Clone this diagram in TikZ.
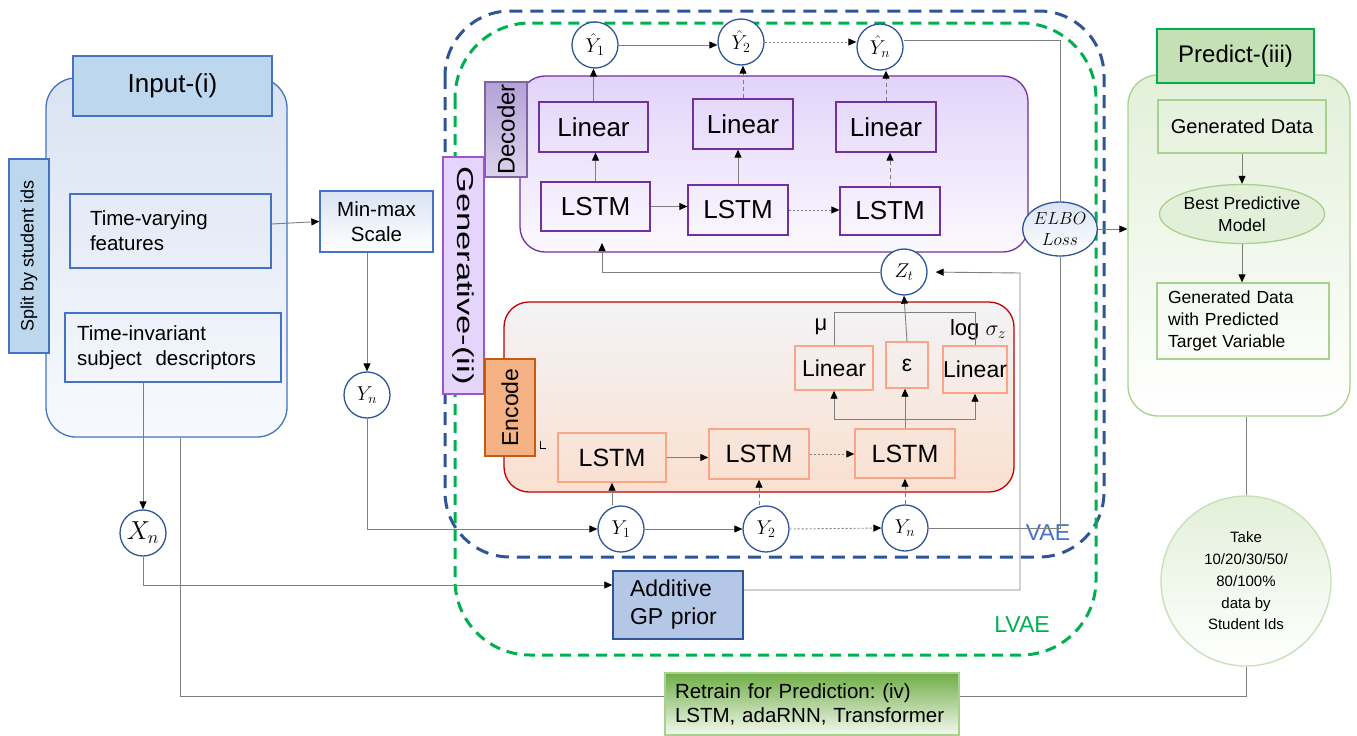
\RequirePackage{fix-cm}
\documentclass[tikz,border=0pt]{standalone}
\usepackage{fontspec}
\setmainfont{Liberation Sans}
\usepackage{graphicx}
\usetikzlibrary{arrows.meta,shapes.geometric}
\newcommand\fsz[2]{\fontsize{#1}{#2}\selectfont}
\definecolor{inborder}{HTML}{4472C4}
\definecolor{intitle}{HTML}{BDD7EE}
\definecolor{intop}{HTML}{DAE3F3}
\definecolor{inbot}{HTML}{F7F9FD}
\definecolor{circblue}{HTML}{2F5597}
\definecolor{linegray}{HTML}{7F7F7F}
\definecolor{decline}{HTML}{7030A0}
\definecolor{dectop}{HTML}{E2D4FA}
\definecolor{decbot}{HTML}{FBF9FE}
\definecolor{dectagtop}{HTML}{B3A2D7}
\definecolor{dectagbot}{HTML}{DCD3EC}
\definecolor{dectagline}{HTML}{8064A2}
\definecolor{gentag}{HTML}{E5D5FC}
\definecolor{genline}{HTML}{9A57CD}
\definecolor{encline}{HTML}{C00000}
\definecolor{enctop}{HTML}{F3F3F6}
\definecolor{encbot}{HTML}{FAE0CF}
\definecolor{enctag}{HTML}{F4B183}
\definecolor{enctagline}{HTML}{C55A11}
\definecolor{encpink}{HTML}{F8A58A}
\definecolor{vaeblue}{HTML}{2F5597}
\definecolor{vaetext}{HTML}{4472C4}
\definecolor{lvaegreen}{HTML}{00B050}
\definecolor{gpfill}{HTML}{B4C7E7}
\definecolor{grnline}{HTML}{A9D18E}
\definecolor{grntop}{HTML}{E2F0D9}
\definecolor{grntitle}{HTML}{C5E0B4}
\definecolor{rttop}{HTML}{70AD47}
\definecolor{rtbot}{HTML}{F3F9EF}
\begin{document}
\frenchspacing
\begin{tikzpicture}[x=1pt,y=-1pt,
  conn/.style={draw=linegray,line width=0.9pt},
  arr/.style={conn,-{Triangle[length=8pt,width=7pt,black]}},
  dotln/.style={dash pattern=on 2pt off 2pt},
  dashln/.style={dash pattern=on 4pt off 3pt},
  var/.style={circle,draw=circblue,line width=1.3pt,fill=white,minimum size=46pt,inner sep=0pt,font=\fsz{20}{23}},
  decbox/.style={draw=decline,line width=1.3pt,inner sep=0pt,font=\fsz{26}{30}},
  encbox/.style={draw=encpink,line width=1.4pt,inner sep=0pt,font=\fsz{25}{29}},
  txtbox/.style={draw=inborder,line width=1.3pt,inner sep=0pt,font=\fsz{20.5}{25}},
  grnbox/.style={draw=grnline,line width=1.3pt,inner sep=0pt},
  tag/.style={line width=1.3pt,inner sep=0pt}]
\fill[white] (0,0) rectangle (1357,736);
\useasboundingbox (0,0) rectangle (1357,736);
\draw[vaeblue,line width=3pt,dash pattern=on 13pt off 8pt,rounded corners=65pt] (445,11) rectangle (1104,557);
\draw[lvaegreen,line width=3pt,dash pattern=on 11pt off 7pt,rounded corners=75pt] (455,23) rectangle (1096,655);
\node[text=vaetext,font=\fsz{23}{26}] (vaelab) at (1048,533) {VAE};
\node[text=lvaegreen,font=\fsz{23}{26}] (lvaelab) at (1022,625) {LVAE};

\node[draw=inborder,line width=1.3pt,rounded corners=30pt,top color=intop,bottom color=inbot,minimum width=241pt,minimum height=359pt] (input) at (166.5,257.5) {};
\node[tag,draw=inborder,fill=intitle,minimum width=199pt,minimum height=60pt,font=\fsz{26}{30}] (intitle) at (172.5,86) {Input-(i)};
\node[tag,draw=inborder,fill=intitle,minimum width=40pt,minimum height=194pt,font=\fsz{18}{21}] (split) at (29,256) {\rotatebox{90}{Split by student ids}};
\node[txtbox,minimum width=201pt,minimum height=74pt,text width=161pt,inner xsep=20pt,align=left] (tv) at (170.5,231) {Time-varying\\features};
\node[txtbox,minimum width=216pt,minimum height=69pt,text width=192pt,inner xsep=12pt,align=left] (ti) at (173,347.5) {Time-invariant\\subject\ \ descriptors};
\node[txtbox,top color=intop,bottom color=white,minimum width=113pt,minimum height=61pt,align=center] (mm) at (376.5,221.5) {Min-max\\Scale};
\node[var] (Yl) at (367,395) {$Y_n$};
\node[var,font=\fsz{26}{28}] (Xn) at (143,533) {$X_n$};

\node[draw=decline,line width=1.3pt,rounded corners=25pt,top color=dectop,bottom color=decbot,minimum width=508pt,minimum height=176pt] (dec) at (774,164) {};
\node[tag,draw=dectagline,top color=dectagtop,bottom color=dectagbot,minimum width=42pt,minimum height=95pt,font=\fsz{24}{28}] (dectag) at (506,129.5) {\rotatebox{90}{Decoder}};
\node[tag,draw=genline,fill=gentag,minimum width=41pt,minimum height=237pt,font=\fsz{23}{26}] (gentag) at (463.5,275.5) {\rotatebox{-90}{\scalebox{1.5}[1]{Generative-(ii)}}};
\node[decbox,minimum width=109pt,minimum height=50pt] (L1) at (593.5,127) {Linear};
\node[decbox,minimum width=100pt,minimum height=50pt] (L2) at (743,124) {Linear};
\node[decbox,minimum width=100pt,minimum height=50pt] (L3) at (886,127) {Linear};
\node[decbox,minimum width=109pt,minimum height=49pt] (S1) at (595.5,206.5) {LSTM};
\node[decbox,minimum width=100pt,minimum height=50pt] (S2) at (738,210) {LSTM};
\node[decbox,minimum width=100pt,minimum height=48pt] (S3) at (890,211) {LSTM};
\node[var] (Yh1) at (595,45) {$\hat{Y}_1$};
\node[var] (Yh2) at (741,42) {$\hat{Y}_2$};
\node[var] (Yhn) at (880,47) {$\hat{Y}_n$};

\node[draw=encline,line width=1.3pt,rounded corners=25pt,top color=enctop,bottom color=encbot,minimum width=510pt,minimum height=190pt] (enc) at (759,397) {};
\node[tag,draw=enctagline,fill=enctag,minimum width=50pt,minimum height=97pt,font=\fsz{23}{26}] (enctag) at (510,407.5) {\rotatebox{90}{Encode}};
\draw[black,line width=1pt] (540.5,441) -- (540.5,448) -- (546,448);
\node[encbox,minimum width=78pt,minimum height=44pt,font=\fsz{23}{26}] (EL1) at (834,368) {Linear};
\node[encbox,minimum width=42pt,minimum height=46pt,font=\fsz{23}{26}] (eps) at (907,365) {ε};
\node[encbox,minimum width=64pt,minimum height=47pt,font=\fsz{23}{26}] (EL2) at (975,369.5) {Linear};
\node[encbox,minimum width=108pt,minimum height=49pt] (E1) at (612,457.5) {LSTM};
\node[encbox,minimum width=100pt,minimum height=50pt] (E2) at (759,454) {LSTM};
\node[encbox,minimum width=100pt,minimum height=49pt] (E3) at (905,453.5) {LSTM};
\node[font=\fsz{22}{26}] (mu) at (821,327) {μ};
\node[font=\fsz{22}{26}] (logs) at (978,330) {log $\sigma_z$};
\node[var] (Zt) at (904,272) {$Z_t$};
\node[var] (Y1) at (621,529) {$Y_1$};
\node[var] (Y2) at (766,529) {$Y_2$};
\node[var] (Yn) at (905,528) {$Y_n$};
\node[ellipse,draw=circblue,line width=1.3pt,top color=intop,bottom color=white,minimum width=67pt,minimum height=54pt,inner sep=0pt,align=center,font=\fsz{17.5}{21}] (elbo) at (1060,229) {$ELBO$\\$Loss$};
\node[draw=circblue,line width=1.5pt,fill=gpfill,minimum width=130pt,minimum height=68pt,text width=96pt,inner xsep=17pt,align=left,font=\fsz{23}{28}] (gp) at (678,605) {Additive\\GP prior};

\node[grnbox,rounded corners=30pt,top color=grntop,bottom color=white,minimum width=222pt,minimum height=341pt] (pbig) at (1239,245.5) {};
\node[tag,draw=lvaegreen,fill=grntitle,minimum width=157pt,minimum height=54pt,font=\fsz{24}{28}] (ptitle) at (1235.5,56) {Predict-(iii)};
\node[grnbox,minimum width=168pt,minimum height=53pt,font=\fsz{20}{24}] (gd) at (1242,126.5) {Generated Data};
\node[grnbox,ellipse,fill=grntop,minimum width=133pt,minimum height=59pt,align=center,font=\fsz{17.5}{21.7}] (bpm) at (1242,214) {Best Predictive\\Model};
\node[grnbox,minimum width=172pt,minimum height=76pt,text width=150pt,inner xsep=11pt,align=left,font=\fsz{17.5}{21.7}] (gdp) at (1243,321) {Generated Data\\with Predicted\\Target Variable};
\node[grnbox,draw=grntitle,circle,top color=grntop,bottom color=white,minimum size=170pt,align=center,font=\fsz{15}{21.7}] (take) at (1246,581) {Take\\10/20/30/50/\\80/100\%\\data by\\Student Ids};
\node[grnbox,top color=rttop,bottom color=rtbot,minimum width=294pt,minimum height=62pt,text width=274pt,inner xsep=10pt,align=left,font=\fsz{20.5}{24}] (rt) at (812,704) {Retrain for Prediction: (iv)\\LSTM, adaRNN, Transformer};

\draw[arr] ([yshift=7pt]tv.east) -- (mm.west);
\draw[arr] (mm.south -| Yl.north) -- (Yl.north);
\draw[arr] (Yl.south) |- (Y1.west);
\draw[arr] (ti.south -| Xn.north) -- (Xn.north);
\draw[arr] (Xn.south) |- ([yshift=20pt]gp.west);
\draw[conn] ([xshift=13.5pt]input.south) |- ([yshift=8pt]rt.west);
\draw[conn] ([yshift=8pt]rt.east) -| (take.south);
\draw[conn] (take.north) -- (take.north |- pbig.south);
\draw[arr] (elbo.east) -- (elbo.east -| pbig.west);
\draw[conn] ([yshift=7pt]Yhn.east) -| (elbo.north);
\draw[conn] (Yn.east) -| (elbo.south);
\coordinate (zin) at (1020,273);
\draw[arr,shorten >=8pt] ([yshift=15pt]gp.east) -| (zin) -- (Zt.east);
\coordinate (zout) at (602,243);
\draw[arr] (Zt.west) -| (zout);
\draw[arr] (eps.north) -- (Zt.south);
\draw[conn] (EL1.north) -- ++(0,-33) -| (EL2.north);
\coordinate (br) at (905,419);
\draw[conn] (E3.north) -- (br);
\draw[arr] (br) -| (EL1.south);
\draw[arr] (br) -| (EL2.south);
\draw[arr] (br) -- (br |- eps.south);
\draw[arr] (E1.east) -- (E1.east -| E2.west);
\draw[arr,dotln] (E2.east) -- (E2.east -| E3.west);
\draw[arr] (Y1.north -| E1.south) -- (E1.south);
\draw[arr,dashln] (Y2.north -| E2.south) -- (E2.south);
\draw[arr,dashln] (Yn.north -| E3.south) -- (E3.south);
\draw[arr] (Y1.east) -- (Y2.west);
\draw[arr,dotln] (Y2.east) -- (Yn.west);
\draw[arr] (S1.north) -- (S1.north |- L1.south);
\draw[arr] (S2.north) -- (S2.north |- L2.south);
\draw[arr,dashln] (S3.north) -- (S3.north |- L3.south);
\draw[arr] (L1.north) -- (L1.north |- Yh1.south);
\draw[arr,dashln] (L2.north) -- (L2.north |- Yh2.south);
\draw[arr,dashln] (L3.north) -- (L3.north |- Yhn.south);
\draw[arr] (S1.east) -- (S1.east -| S2.west);
\draw[arr,dotln] (S2.east) -- (S2.east -| S3.west);
\draw[arr] (Yh1.east) -- (Yh1.east -| Yh2.west);
\draw[arr,dotln] (Yh2.east) -- (Yh2.east -| Yhn.west);
\draw[arr] (gd.south) -- (bpm.north);
\draw[arr] (bpm.south) -- (bpm.south |- gdp.north);
\end{tikzpicture}
\end{document}
